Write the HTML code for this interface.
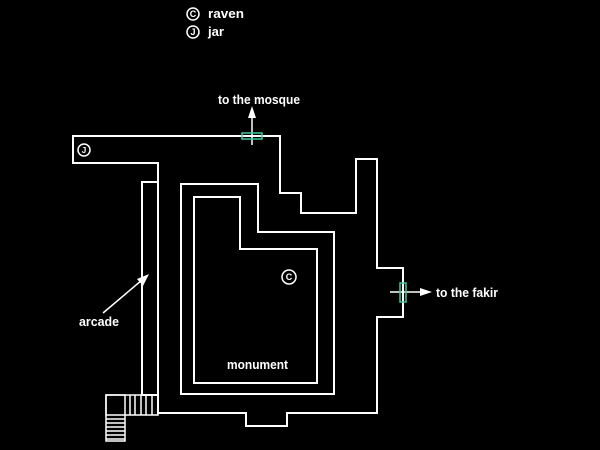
<!DOCTYPE html>
<html><head><style>
body{margin:0;background:#000;}
svg{display:block}
text{font-family:"Liberation Sans",sans-serif;font-weight:bold;fill:#fff;font-size:13px}
</style></head><body>
<svg width="600" height="450" viewBox="0 0 600 450" xmlns="http://www.w3.org/2000/svg">
<rect width="600" height="450" fill="#000"/>
<g fill="none" stroke="#fff" stroke-width="2">
<polygon points="73,136 280,136 280,193 301,193 301,213 356,213 356,159 377,159 377,268 403,268 403,317 377,317 377,413 287,413 287,426 246,426 246,413 158,413 158,163 73,163"/>
<rect x="142" y="182" width="16" height="213"/>
<polygon points="181,184 258,184 258,232 334,232 334,394 181,394"/>
<polygon points="194,197 240,197 240,249 317,249 317,383 194,383"/>
<g stroke-width="1.5">
<rect x="106" y="395" width="52" height="20"/>
<rect x="106" y="395" width="19" height="46"/>
<line x1="130" y1="395" x2="130" y2="415"/><line x1="135" y1="395" x2="135" y2="415"/>
<line x1="141" y1="395" x2="141" y2="415"/><line x1="146" y1="395" x2="146" y2="415"/>
<line x1="152" y1="395" x2="152" y2="415"/>
<line x1="106" y1="419" x2="125" y2="419"/><line x1="106" y1="423" x2="125" y2="423"/>
<line x1="106" y1="427" x2="125" y2="427"/><line x1="106" y1="431" x2="125" y2="431"/>
<line x1="106" y1="435" x2="125" y2="435"/><line x1="106" y1="439" x2="125" y2="439"/>
<circle cx="84" cy="150" r="6"/>
<circle cx="289" cy="277" r="7"/>
<circle cx="193" cy="14" r="6"/>
<circle cx="193" cy="32" r="6"/>
</g>
<line x1="252" y1="145" x2="252" y2="114" stroke-width="1.5"/>
<line x1="390" y1="292" x2="425" y2="292" stroke-width="1.5"/>
<line x1="103" y1="313" x2="142" y2="280" stroke-width="1.5"/>
</g>
<polygon points="252,106 248,118 256,118" fill="#fff"/>
<polygon points="432,292 420,288 420,296" fill="#fff"/>
<polygon points="149,274 137,279 143,286" fill="#fff"/>
<rect x="242" y="133" width="20" height="6" fill="none" stroke="#3ec9a0" stroke-width="1.5"/>
<rect x="400" y="283" width="6" height="19" fill="none" stroke="#3ec9a0" stroke-width="1.5"/>
<text x="84" y="153" text-anchor="middle" style="font-size:8px">J</text>
<text x="289" y="280" text-anchor="middle" style="font-size:9px">C</text>
<text x="193" y="17" text-anchor="middle" style="font-size:9px">C</text>
<text x="193" y="35" text-anchor="middle" style="font-size:9px">J</text>
<text x="208" y="18" textLength="36" lengthAdjust="spacingAndGlyphs">raven</text>
<text x="208" y="36" textLength="16" lengthAdjust="spacingAndGlyphs">jar</text>
<text x="218" y="104" textLength="82" lengthAdjust="spacingAndGlyphs">to the mosque</text>
<text x="436" y="297" textLength="62" lengthAdjust="spacingAndGlyphs">to the fakir</text>
<text x="79" y="326" textLength="40" lengthAdjust="spacingAndGlyphs">arcade</text>
<text x="227" y="369" textLength="61" lengthAdjust="spacingAndGlyphs">monument</text>
</svg>
</body></html>
